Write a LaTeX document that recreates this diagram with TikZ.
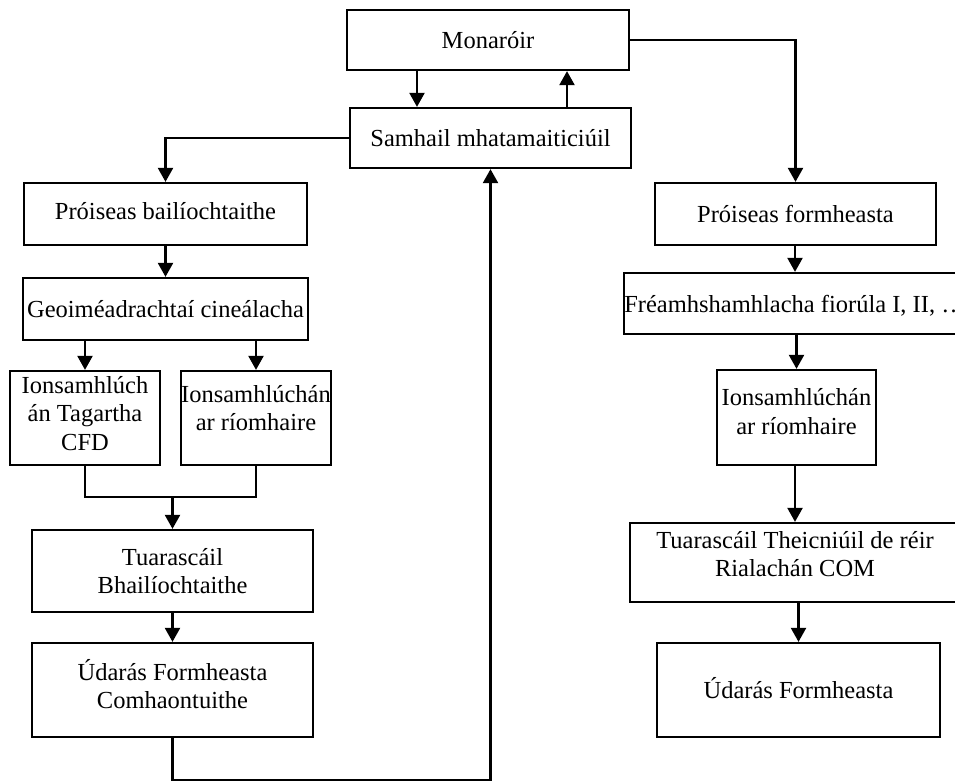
\documentclass[tikz,border=0pt]{standalone}
\usepackage{fontspec}
\setmainfont{Liberation Serif}
\usetikzlibrary{arrows.meta}

\tikzset{
    blk/.style={draw, rectangle, line width=2.3pt, inner sep=0pt, align=center,
        font=\fontsize{24.5}{28.5}\selectfont},
    link/.style={line width=2.3pt},
    flow/.style={link, -{Triangle[length=14pt, width=15pt]}},
}

\begin{document}
\begin{tikzpicture}[x=1pt, y=-1pt]
    \clip (0,0) rectangle (955,782);

    % draw nodes
    \foreach \nm/\x/\y/\w/\h/\d/\t in {
        mon/488/40/282/60/0/{Monaróir},
        sam/490.5/138/281/60/0/{Samhail mhatamaiticiúil},
        pbail/165.5/214/283/62/6/{Próiseas bailíochtaithe},
        geo/165.5/309/285/62/0/{Geoiméadrachtaí cineálacha},
        ionA/85/418/150/94/10/{Ionsamhlúch\\án Tagartha\\CFD},
        ionB/256/418/150/94/20/{Ionsamhlúchán\\ar ríomhaire},
        tuarB/172.5/571/281/82/-10/{Tuarascáil\\Bhailíochtaithe},
        udC/172.5/690/281/94/12/{Údarás Formheasta\\Comhaontuithe},
        pform/795.5/214/281/62/0/{Próiseas formheasta},
        fream/795/303.5/340/61/0/{Fréamhshamhlacha fiorúla I, II, …},
        ionC/796.5/417.5/159/95/12/{Ionsamhlúchán\\ar ríomhaire},
        tuarT/795/562.5/330/79/17/{Tuarascáil Theicniúil de réir\\Rialachán COM},
        udF/798.5/690/283/94/4/{Údarás Formheasta}}
        \node [blk, minimum width=\w pt, minimum height=\h pt, text depth=\d pt]
            (\nm) at (\x, \y) {\t};

    % draw edges
    \draw [flow] ([xshift=-71pt]mon.south) -- ([xshift=-71pt]mon.south |- sam.north);
    \draw [flow] ([xshift=79pt]mon.south |- sam.north) -- ([xshift=79pt]mon.south);
    \draw [flow] (sam.west) -| (pbail.north);
    \draw [flow] (mon.east) -| (pform.north);

    \foreach \i/\j in {pbail/geo, geo/ionA, geo/ionB, tuarB/udC,
                       pform/fream, fream/ionC, ionC/tuarT, tuarT/udF}
        \draw [flow] (\j.north |- \i.south) -- (\j.north);

    % join of the two simulations
    \coordinate (jn) at (172.5, 497);
    \draw [link] (ionA.south) |- (jn) -| (ionB.south);
    \draw [flow] (jn) -- (tuarB.north);

    % loop back to the model
    \coordinate (lp) at (172.5, 780);
    \draw [flow] (udC.south) -- (lp) -| (sam.south);

\end{tikzpicture}
\end{document}
